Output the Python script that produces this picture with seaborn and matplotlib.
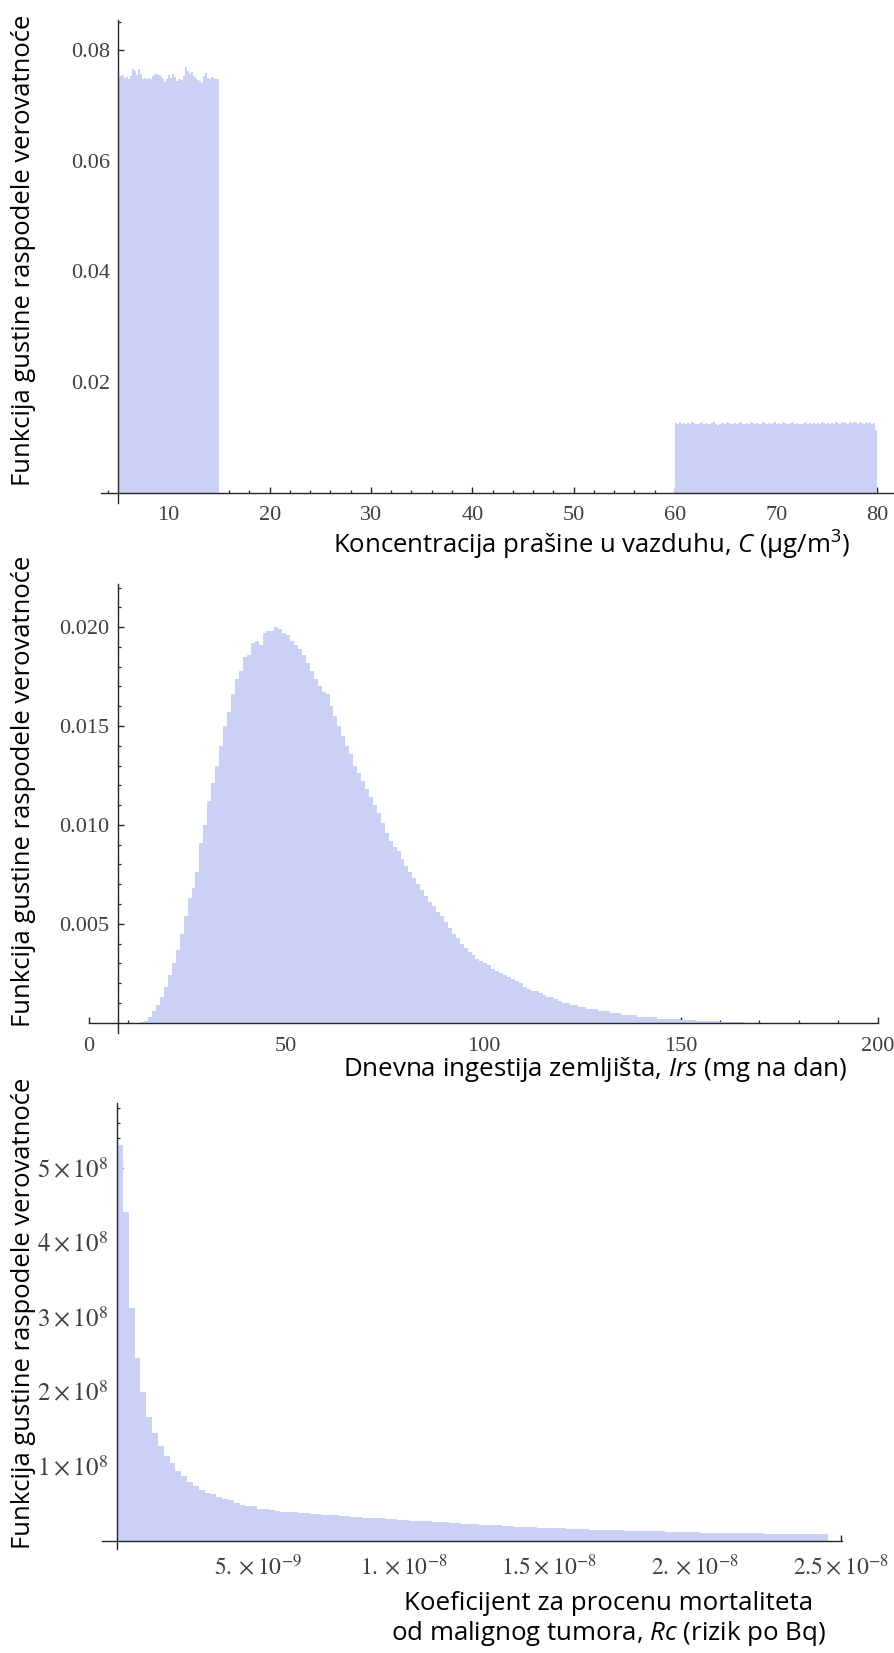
import numpy as np
import pandas as pd
import matplotlib
matplotlib.use("Agg")
import matplotlib.pyplot as plt
import seaborn as sns
from matplotlib.ticker import FixedLocator, FixedFormatter, NullFormatter

sns.set_theme(style="white")
plt.rcParams['font.family'] = ['Liberation Serif', 'DejaVu Serif']
plt.rcParams['mathtext.fontset'] = 'stix'
plt.rcParams['mathtext.rm'] = 'Open Sans'
plt.rcParams['mathtext.it'] = 'Open Sans:italic'
plt.rcParams['mathtext.bf'] = 'Open Sans:bold'

# ---------------- data ----------------
# Panel 1: dust concentration C (ug/m3), two uniform blocks
C_LOW_START, C_LOW_WIDTH = 5.0, 0.2
c_low_density = [
    0.0749, 0.0752, 0.0755, 0.0749, 0.0751, 0.0748, 0.0753, 0.0766, 0.0762, 0.0754,
    0.0765, 0.0757, 0.0748, 0.0750, 0.0747, 0.0749, 0.0748, 0.0753, 0.0756, 0.0757,
    0.0755, 0.0753, 0.0749, 0.0742, 0.0747, 0.0755, 0.0750, 0.0756, 0.0751, 0.0744,
    0.0747, 0.0745, 0.0752, 0.0769, 0.0762, 0.0757, 0.0760, 0.0752, 0.0749, 0.0746,
    0.0743, 0.0741, 0.0752, 0.0759, 0.0750, 0.0748, 0.0751, 0.0749, 0.0748, 0.0748]
C_HIGH_START, C_HIGH_WIDTH = 60.0, 0.2
c_high_density = [
    0.0126, 0.0125, 0.0127, 0.0125, 0.0126, 0.0124, 0.0126, 0.0125, 0.0127, 0.0126,
    0.0125, 0.0124, 0.0126, 0.0127, 0.0125, 0.0126, 0.0124, 0.0125, 0.0126, 0.0127,
    0.0125, 0.0123, 0.0125, 0.0126, 0.0125, 0.0127, 0.0126, 0.0125, 0.0124, 0.0126,
    0.0125, 0.0126, 0.0127, 0.0125, 0.0124, 0.0126, 0.0125, 0.0127, 0.0126, 0.0125,
    0.0126, 0.0124, 0.0125, 0.0127, 0.0126, 0.0125, 0.0126, 0.0124, 0.0126, 0.0127,
    0.0125, 0.0126, 0.0125, 0.0127, 0.0126, 0.0124, 0.0125, 0.0126, 0.0127, 0.0125,
    0.0126, 0.0125, 0.0124, 0.0126, 0.0127, 0.0125, 0.0126, 0.0125, 0.0126, 0.0124,
    0.0126, 0.0125, 0.0127, 0.0126, 0.0125, 0.0126, 0.0124, 0.0126, 0.0125, 0.0127,
    0.0126, 0.0125, 0.0127, 0.0128, 0.0126, 0.0125, 0.0127, 0.0126, 0.0128, 0.0127,
    0.0125, 0.0127, 0.0126, 0.0125, 0.0128, 0.0126, 0.0127, 0.0125, 0.0126, 0.0114]

# Panel 2: daily soil ingestion Irs (mg/day), bins of 1 starting at 13
IRS_START, IRS_WIDTH = 13.0, 1.0
irs_density = [
    0.00005, 0.0001, 0.0003, 0.0006, 0.0009, 0.0013, 0.0018, 0.0024, 0.0030, 0.0037,
    0.0045, 0.0054, 0.0063, 0.0068, 0.0076, 0.0091, 0.0100, 0.0112, 0.0121, 0.0130,
    0.0140, 0.0150, 0.0157, 0.0166, 0.0174, 0.0178, 0.0185, 0.0186, 0.0192, 0.0193,
    0.0191, 0.0197, 0.0198, 0.0198, 0.0200, 0.0199, 0.0197, 0.0196, 0.0193, 0.0191,
    0.0189, 0.0186, 0.0182, 0.0178, 0.0174, 0.0170, 0.0167, 0.0166, 0.0160, 0.0155,
    0.0150, 0.0145, 0.0140, 0.0136, 0.0130, 0.0126, 0.0122, 0.0118, 0.0114, 0.0110,
    0.0106, 0.0101, 0.0096, 0.0092, 0.0089, 0.0087, 0.0083, 0.0079, 0.0076, 0.0073,
    0.0070, 0.0067, 0.0064, 0.0061, 0.0059, 0.0056, 0.0054, 0.0051, 0.0048, 0.0045,
    0.0043, 0.0040, 0.0038, 0.0036, 0.0034, 0.0032, 0.0031, 0.0030, 0.0029, 0.0027,
    0.0026, 0.0025, 0.0024, 0.0023, 0.0022, 0.0021, 0.0020, 0.0018, 0.0017, 0.0016,
    0.0016, 0.0015, 0.0014, 0.0013, 0.0013, 0.0012, 0.0011, 0.0010, 0.0010, 0.0009,
    0.0009, 0.0008, 0.0008, 0.0007, 0.0007, 0.0007, 0.0006, 0.0006, 0.0006, 0.0005,
    0.0005, 0.0005, 0.0004, 0.0004, 0.0004, 0.0004, 0.0003, 0.0003, 0.0003, 0.0003,
    0.0003, 0.0002, 0.0002, 0.0002, 0.0002, 0.0002, 0.0002, 0.00015, 0.00015, 0.00012,
    0.00012, 0.0001, 0.0001, 0.0001, 0.00008, 0.00008, 0.00007, 0.00006, 0.00005, 0.00005,
    0.00004, 0.00004, 0.00003]

# Panel 3: cancer mortality coefficient Rc (risk per Bq), density in units of 1e8
RC_START, RC_WIDTH = 0.18e-9, 0.2e-9
rc_density_e8 = [
    5.30, 4.40, 3.12, 2.45, 2.00, 1.66, 1.44, 1.27, 1.135, 1.04,
    0.94, 0.87, 0.79, 0.73, 0.68, 0.64, 0.63, 0.59, 0.56, 0.54,
    0.51, 0.48, 0.47, 0.46, 0.43, 0.43, 0.41, 0.40, 0.39, 0.39,
    0.38, 0.37, 0.37, 0.36, 0.36, 0.35, 0.34, 0.34, 0.33, 0.33,
    0.32, 0.32, 0.31, 0.31, 0.30, 0.30, 0.29, 0.29, 0.28, 0.28,
    0.27, 0.27, 0.26, 0.26, 0.25, 0.25, 0.245, 0.24, 0.235, 0.23,
    0.225, 0.22, 0.215, 0.21, 0.21, 0.205, 0.20, 0.195, 0.19, 0.19,
    0.185, 0.18, 0.175, 0.175, 0.17, 0.165, 0.165, 0.16, 0.16, 0.155,
    0.155, 0.15, 0.15, 0.145, 0.145, 0.14, 0.14, 0.135, 0.135, 0.13,
    0.13, 0.13, 0.125, 0.125, 0.12, 0.12, 0.12, 0.115, 0.115, 0.115,
    0.11, 0.11, 0.11, 0.105, 0.105, 0.105, 0.10, 0.10, 0.10, 0.098,
    0.097, 0.096, 0.095, 0.094, 0.093, 0.092, 0.091, 0.090, 0.089, 0.088,
    0.088, 0.087]

c_xticks = [10, 20, 30, 40, 50, 60, 70, 80]
c_yticks = [0.02, 0.04, 0.06, 0.08]
c_yticklabels = ["0.02", "0.04", "0.06", "0.08"]
irs_xticks = [0, 50, 100, 150, 200]
irs_yticks = [0.005, 0.010, 0.015, 0.020]
irs_yticklabels = ["0.005", "0.010", "0.015", "0.020"]
rc_xticks = [5e-9, 1e-8, 1.5e-8, 2e-8, 2.5e-8]
rc_xticklabels = [r"$5.\times10^{-9}$", r"$1.\times10^{-8}$", r"$1.5\times10^{-8}$",
                  r"$2.\times10^{-8}$", r"$2.5\times10^{-8}$"]
rc_yticks = [1e8, 2e8, 3e8, 4e8, 5e8]
rc_yticklabels = [r"$1\times10^{8}$", r"$2\times10^{8}$", r"$3\times10^{8}$",
                  r"$4\times10^{8}$", r"$5\times10^{8}$"]

ylabel_text = "Funkcija gustine raspodele verovatnoće"
xlabel1 = r"Koncentracija prašine u vazduhu, $C$ (μg/m$^3$)"
xlabel2 = r"Dnevna ingestija zemljišta, $Irs$ (mg na dan)"
xlabel3a = "Koeficijent za procenu mortaliteta"
xlabel3b = r"od malignog tumora, $Rc$ (rizik po Bq)"

# ---------------- style ----------------
FILL = "#CBD1F4"
AXC = "#262626"
TICKC = "#404040"
W, H = 895, 1653

fig = plt.figure(figsize=(W / 100, H / 100), dpi=100)
fig.patch.set_facecolor("white")


def box(left, right, top, bottom):
    return [left / W, 1 - bottom / H, (right - left) / W, (bottom - top) / H]


def hist(ax, start, width, dens, scale=1.0):
    dens = np.asarray(dens, dtype=float) * scale
    n = len(dens)
    lo = start
    hi = start + width * n
    centers = lo + width * (np.arange(n) + 0.5)
    df = pd.DataFrame({"x": centers, "w": dens})
    sns.histplot(data=df, x="x", weights="w", bins=n, binrange=(lo, hi),
                 stat="count", element="step", fill=True, color=FILL,
                 alpha=1.0, linewidth=0, ax=ax)


def style(ax, xlim, ylim, ycross, xmaj, xmajlab, xminor, ymaj, ymajlab, yminor,
          xpad, ypad, xsize, ysize):
    ax.set_xlim(*xlim)
    ax.set_ylim(*ylim)
    ax.set_facecolor("none")
    for s in ["top", "right"]:
        ax.spines[s].set_visible(False)
    ax.spines["left"].set_position(("data", ycross))
    ax.spines["bottom"].set_position(("data", 0))
    for s in ["left", "bottom"]:
        ax.spines[s].set_color(AXC)
        ax.spines[s].set_linewidth(1.0)
        ax.spines[s].set_visible(True)
    ax.xaxis.set_major_locator(FixedLocator(xmaj))
    ax.xaxis.set_major_formatter(FixedFormatter(xmajlab))
    ax.xaxis.set_minor_locator(FixedLocator(xminor))
    ax.xaxis.set_minor_formatter(NullFormatter())
    ax.yaxis.set_major_locator(FixedLocator(ymaj))
    ax.yaxis.set_major_formatter(FixedFormatter(ymajlab))
    ax.yaxis.set_minor_locator(FixedLocator(yminor))
    ax.yaxis.set_minor_formatter(NullFormatter())
    ax.tick_params(axis="both", which="major", direction="in", length=4.0,
                   width=1.0, color=AXC, labelcolor=TICKC)
    ax.tick_params(axis="both", which="minor", direction="in", length=2.2,
                   width=0.9, color=AXC)
    ax.tick_params(axis="x", which="both", bottom=True, top=False)
    ax.tick_params(axis="y", which="both", left=True, right=False)
    ax.tick_params(axis="x", which="major", pad=xpad, labelsize=xsize)
    ax.tick_params(axis="y", which="major", pad=ypad, labelsize=ysize)
    ax.set_xlabel("")
    ax.set_ylabel("")
    ax.grid(False)


# Panel 1
ax1 = fig.add_axes(box(101.5, 893.7, 20.0, 502.7))
hist(ax1, C_LOW_START, C_LOW_WIDTH, c_low_density)
hist(ax1, C_HIGH_START, C_HIGH_WIDTH, c_high_density)
style(ax1, (3.4, 81.6), (-0.0018, 0.0854), 5.0,
      c_xticks, [str(v) for v in c_xticks], [v for v in range(4, 82, 2) if v % 10],
      c_yticks, c_yticklabels, [v * 0.005 for v in range(1, 18) if v % 4],
      xpad=9.5, ypad=5.5, xsize=16, ysize=16)

# Panel 2
ax2 = fig.add_axes(box(89.0, 877.7, 584.0, 1032.6))
hist(ax2, IRS_START, IRS_WIDTH, irs_density)
style(ax2, (0, 200), (-0.0005, 0.02218), 7.3,
      irs_xticks, [str(v) for v in irs_xticks], [v for v in range(10, 200, 10) if v % 50],
      irs_yticks, irs_yticklabels, [v * 0.001 for v in range(1, 23) if v % 5],
      xpad=10.0, ypad=6.0, xsize=16, ysize=16)

# Panel 3
ax3 = fig.add_axes(box(101.7, 841.5, 1102.8, 1549.3))
hist(ax3, RC_START, RC_WIDTH, rc_density_e8, scale=1e8)
style(ax3, (-0.35e-9, 25.03e-9), (-0.115e8, 5.87e8), 0.185e-9,
      rc_xticks, rc_xticklabels, [v * 1e-9 for v in range(1, 26) if v % 5],
      rc_yticks, rc_yticklabels, [v * 0.2e8 for v in range(1, 30) if v % 5],
      xpad=9.5, ypad=6.5, xsize=17, ysize=18)

# ---------------- labels ----------------
LABEL_FONT = ["Open Sans", "DejaVu Sans"]
lab_kw = dict(family=LABEL_FONT, color="black", math_fontfamily="custom")

texts = []
for yc in (250, 791, 1313):
    t = fig.text(24 / W, 1 - yc / H, ylabel_text, rotation=90, ha="center",
                 va="center", fontsize=17, **lab_kw)
    texts.append((t, 472, "h"))

t1 = fig.text(850 / W, 1 - 545 / H, xlabel1, ha="right", va="center", fontsize=17, **lab_kw)
t2 = fig.text(848 / W, 1 - 1070 / H, xlabel2, ha="right", va="center", fontsize=17, **lab_kw)
t3 = fig.text(609 / W, 1 - 1603 / H, xlabel3a, ha="center", va="center", fontsize=17, **lab_kw)
t4 = fig.text(609 / W, 1 - 1633 / H, xlabel3b, ha="center", va="center", fontsize=17, **lab_kw)
texts += [(t1, 517, "w"), (t2, 506, "w"), (t3, 408, "w"), (t4, 435, "w")]

fig.canvas.draw()
renderer = fig.canvas.get_renderer()
for t, target, dim in texts:
    bb = t.get_window_extent(renderer)
    cur = bb.height if dim == "h" else bb.width
    if cur > 0:
        t.set_fontsize(t.get_fontsize() * target / cur)

fig.savefig("out.png", dpi=100, facecolor="white")
